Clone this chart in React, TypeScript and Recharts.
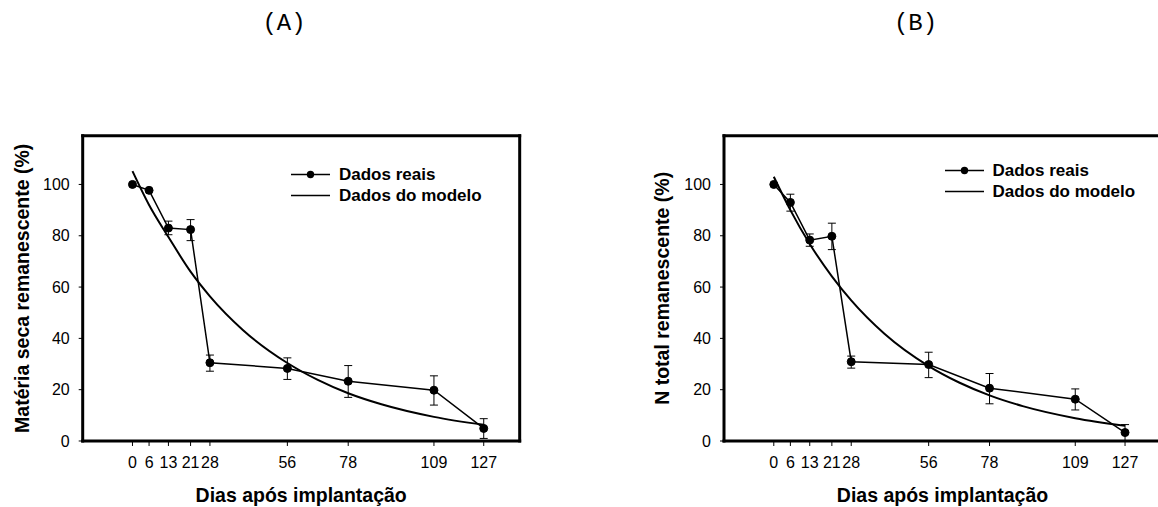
import { LineChart, Line, XAxis, YAxis, ErrorBar, Legend, Label, ReferenceLine } from 'recharts'

const FONT = '"Liberation Sans", Arial, sans-serif'

// shared axes
const DAYS = [0, 6, 13, 21, 28, 56, 78, 109, 127]
const Y_TICKS = [0, 20, 40, 60, 80, 100]
const MODEL_DAYS = [0, 6, 13, 21, 28, 40, 56, 67, 78, 90, 109, 127]
const X_DOMAIN = [-18, 140]
const Y_DOMAIN = [0, 119]

// (A) matéria seca remanescente
const A_REAL = [100, 97.7, 83, 82.4, 30.5, 28.3, 23.3, 19.8, 4.9]
const A_UPPER = [null, null, 85.7, 86.3, 33.5, 32.4, 29.4, 25.4, 8.7]
const A_LOWER = [null, null, 80.4, 78.1, 27.2, 24.0, 17.0, 14.0, 1.0]
const A_MODEL = [105.2, 92, 79.5, 66, 56.4, 43.2, 30.4, 23.8, 18.6, 14.3, 9.4, 6.3]

// (B) N total remanescente
const B_REAL = [100, 93.0, 78.3, 79.8, 30.9, 29.8, 20.6, 16.3, 3.3]
const B_UPPER = [null, 96.2, 80.7, 84.9, 33.1, 34.6, 26.3, 20.3, 6.4]
const B_LOWER = [null, 89.6, 75.9, 74.6, 28.4, 24.7, 14.5, 12.1, 0.2]
const B_MODEL = [103, 90, 76.8, 64.2, 54.8, 41.8, 29.2, 22.8, 17.8, 13.6, 8.9, 5.9]

function buildReal(values: number[], upper: (number | null)[], lower: (number | null)[]) {
  return DAYS.map((day, i) => ({
    day,
    real: values[i],
    err: upper[i] == null || lower[i] == null ? null : [values[i] - (lower[i] as number), (upper[i] as number) - values[i]],
  }))
}

function buildModel(values: number[]) {
  return MODEL_DAYS.map((day, i) => ({ day, model: values[i] }))
}

const frameLine = { stroke: '#000', strokeWidth: 3, strokeLinecap: 'square' as const }
const tickStyle = { fill: '#000', fontSize: 16, fontFamily: FONT }
const titleStyle = { fill: '#000', fontSize: 19.5, fontWeight: 'bold', fontFamily: FONT }

function LegendBox() {
  const row = { display: 'flex', alignItems: 'center', height: 21 }
  return (
    <div style={{ fontFamily: FONT, fontWeight: 'bold', fontSize: 17, color: '#000', lineHeight: '21px', whiteSpace: 'nowrap' }}>
      <div style={row}>
        <svg width={48} height={21} style={{ display: 'block' }}>
          <line x1={0} x2={39} y1={10.5} y2={10.5} stroke="#000" strokeWidth={1.5} />
          <circle cx={19.5} cy={10.5} r={3.7} fill="#000" />
        </svg>
        <span>Dados reais</span>
      </div>
      <div style={row}>
        <svg width={48} height={21} style={{ display: 'block' }}>
          <line x1={0} x2={39} y1={10.5} y2={10.5} stroke="#000" strokeWidth={1.5} />
        </svg>
        <span>Dados do modelo</span>
      </div>
    </div>
  )
}

interface PanelProps {
  left: number
  marginLeft: number
  yLabel: string
  yLabelOffset: number
  real: ReturnType<typeof buildReal>
  model: ReturnType<typeof buildModel>
  legendLeft: number
  legendTop: number
}

function Panel({ left, marginLeft, yLabel, yLabelOffset, real, model, legendLeft, legendTop }: PanelProps) {
  return (
    <div style={{ position: 'absolute', left, top: 0 }}>
      <LineChart
        width={marginLeft + 70 + 437 + 20}
        height={507}
        margin={{ top: 135.7, right: 20, bottom: 36, left: marginLeft }}
      >
        <XAxis
          dataKey="day"
          type="number"
          domain={X_DOMAIN}
          ticks={DAYS}
          interval={0}
          allowDataOverflow
          height={30}
          tickSize={5}
          tickMargin={11}
          axisLine={frameLine}
          tickLine={{ stroke: '#000', strokeWidth: 1 }}
          tick={tickStyle}
        >
          <Label value="Dias após implantação" position="bottom" offset={17} style={titleStyle} />
        </XAxis>
        <YAxis
          type="number"
          domain={Y_DOMAIN}
          ticks={Y_TICKS}
          allowDataOverflow
          width={70}
          tickSize={4}
          tickMargin={9}
          axisLine={frameLine}
          tickLine={{ stroke: '#000', strokeWidth: 1 }}
          tick={tickStyle}
        >
          <Label
            value={yLabel}
            angle={-90}
            position="insideLeft"
            offset={yLabelOffset}
            style={{ ...titleStyle, textAnchor: 'middle' }}
          />
        </YAxis>
        {/* top and right edges of the box */}
        <ReferenceLine y={Y_DOMAIN[1]} stroke="#000" strokeWidth={3} strokeLinecap="square" />
        <ReferenceLine x={X_DOMAIN[1]} stroke="#000" strokeWidth={3} strokeLinecap="square" />
        <Legend
          layout="horizontal"
          verticalAlign="middle"
          align="center"
          content={<LegendBox />}
          wrapperStyle={{ left: legendLeft, top: legendTop, width: 'auto', height: 'auto' }}
        />
        <Line
          data={model}
          dataKey="model"
          name="Dados do modelo"
          type="monotone"
          stroke="#000"
          strokeWidth={2}
          dot={false}
          activeDot={false}
          isAnimationActive={false}
        />
        <Line
          data={real}
          dataKey="real"
          name="Dados reais"
          type="linear"
          stroke="#000"
          strokeWidth={1.5}
          dot={{ r: 4, fill: '#000', stroke: '#000', strokeWidth: 1 }}
          activeDot={false}
          isAnimationActive={false}
        >
          <ErrorBar dataKey="err" direction="y" width={4} stroke="#000" strokeWidth={1} isAnimationActive={false} />
        </Line>
      </LineChart>
    </div>
  )
}

const panelTitle = {
  position: 'absolute' as const,
  top: 10,
  width: 80,
  textAlign: 'center' as const,
  fontFamily: '"Liberation Mono", "Courier New", monospace',
  fontSize: 24,
  lineHeight: '28px',
  color: '#000',
}

export default function App() {
  const realA = buildReal(A_REAL, A_UPPER, A_LOWER)
  const realB = buildReal(B_REAL, B_UPPER, B_LOWER)
  return (
    <div style={{ position: 'fixed', left: 0, top: 0, width: 1158, height: 507, overflow: 'hidden', background: '#fff' }}>
      <div style={{ ...panelTitle, left: 284 - 40 }}>(A)</div>
      <div style={{ ...panelTitle, left: 915.5 - 40 }}>(B)</div>
      <Panel
        left={0}
        marginLeft={12.7}
        yLabel="Matéria seca remanescente (%)"
        yLabelOffset={9}
        real={realA}
        model={buildModel(A_MODEL)}
        legendLeft={291}
        legendTop={163.8}
      />
      <Panel
        left={640}
        marginLeft={14}
        yLabel="N total remanescente (%)"
        yLabelOffset={8.3}
        real={realB}
        model={buildModel(B_MODEL)}
        legendLeft={304.5}
        legendTop={159.5}
      />
    </div>
  )
}
